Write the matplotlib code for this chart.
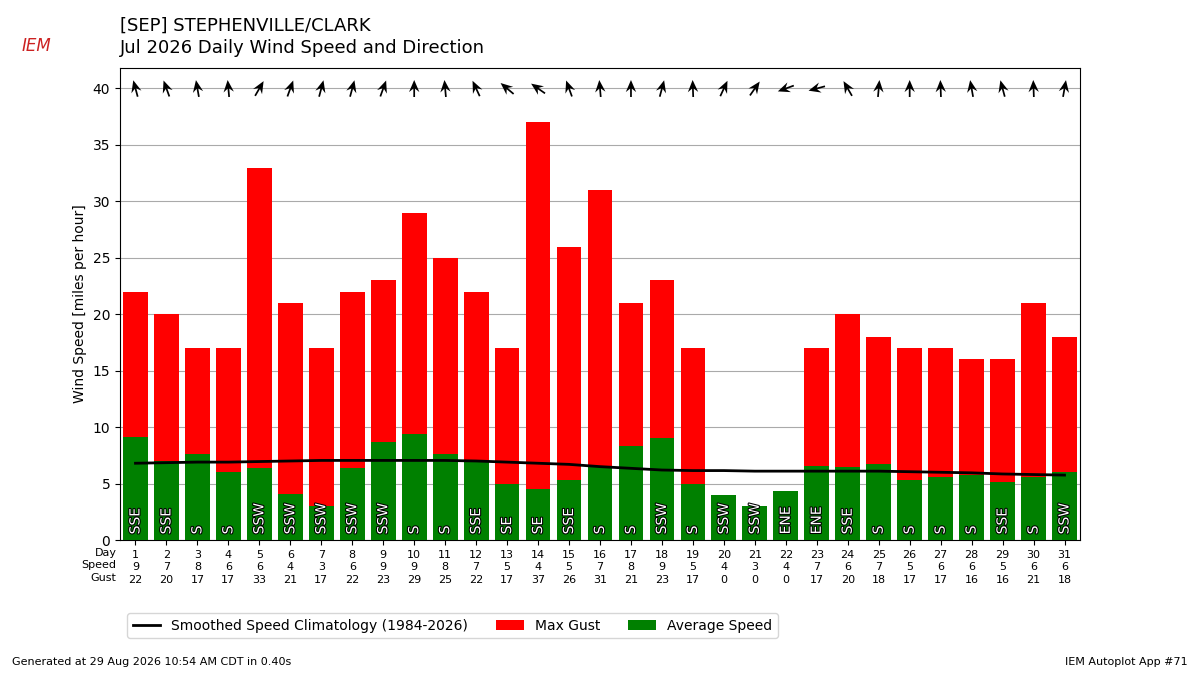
import matplotlib
matplotlib.use("Agg")
import matplotlib.pyplot as plt
import matplotlib.patheffects as pe
import numpy as np

days = list(range(1, 32))
avg_speed = [9.1, 7.0, 7.6, 6.0, 6.4, 4.1, 3.0, 6.4, 8.7, 9.4, 7.6, 7.0, 5.0, 4.5, 5.3, 6.6,
             8.3, 9.0, 5.0, 4.0, 3.0, 4.3, 6.6, 6.5, 6.7, 5.3, 5.6, 5.8, 5.1, 5.6, 6.0]
speed_lbl = [9, 7, 8, 6, 6, 4, 3, 6, 9, 9, 8, 7, 5, 4, 5, 7, 8, 9, 5, 4, 3, 4, 7, 6, 7, 5, 6, 6, 5, 6, 6]
gust = [22, 20, 17, 17, 33, 21, 17, 22, 23, 29, 25, 22, 17, 37, 26, 31, 21, 23, 17, 0, 0, 0,
        17, 20, 18, 17, 17, 16, 16, 21, 18]
dir_txt = ["SSE", "SSE", "S", "S", "SSW", "SSW", "SSW", "SSW", "SSW", "S", "S", "SSE", "SE", "SE",
           "SSE", "S", "S", "SSW", "S", "SSW", "SSW", "ENE", "ENE", "SSE", "S", "S", "S", "S",
           "SSE", "S", "SSW"]
dir_deg = [165, 160, 170, 175, 210, 200, 195, 195, 200, 180, 175, 155, 130, 125, 160, 175,
           180, 195, 178, 205, 215, 70, 75, 150, 185, 180, 178, 170, 165, 178, 190]
climo = [6.8, 6.85, 6.9, 6.9, 6.95, 7.0, 7.05, 7.05, 7.05, 7.05, 7.05, 7.0, 6.9, 6.8, 6.7,
         6.5, 6.35, 6.2, 6.15, 6.15, 6.1, 6.1, 6.1, 6.1, 6.1, 6.05, 6.0, 5.95, 5.85, 5.8, 5.75]

fig = plt.figure(figsize=(12, 6.75), dpi=100)
ax = fig.add_axes([0.1, 0.2, 0.8, 0.699])

ax.bar(days, gust, color="red", width=0.8, label="Max Gust", zorder=2)
ax.bar(days, avg_speed, color="green", width=0.8, label="Average Speed", zorder=3)
ax.plot(days, climo, color="black", lw=2, zorder=4,
        label="Smoothed Speed Climatology (1984-2026)")

for d, t in zip(days, dir_txt):
    ax.text(d, 0.5, t, rotation=90, color="white", ha="center", va="bottom", fontsize=10,
            zorder=5, path_effects=[pe.withStroke(linewidth=1.5, foreground="black")])

theta = np.radians(np.array(dir_deg) + 180)
u = np.sin(theta)
v = np.cos(theta)
ax.quiver(days, [40] * 31, u, v, pivot="middle", angles="uv", scale_units="inches",
          scale=1 / 0.17, width=0.0018, headwidth=6, headlength=7, headaxislength=5,
          color="black", zorder=6)

ax.set_xlim(0.5, 31.5)
ax.set_ylim(0, 41.8)
ax.set_yticks(range(0, 41, 5))
ax.grid(axis="y", color="#aaaaaa", zorder=0)
ax.set_axisbelow(True)
ax.set_ylabel("Wind Speed [miles per hour]")
ax.set_xticks(days)
ax.set_xticklabels([f"{d}\n{s}\n{g}" for d, s, g in zip(days, speed_lbl, gust)], fontsize=8,
                   linespacing=1.3)
ax.tick_params(axis="y", labelsize=10)
fig.text(0.097, 0.188, "Day\nSpeed\nGust", ha="right", va="top", fontsize=8, linespacing=1.3)

ax.legend(loc="upper left", bbox_to_anchor=(0.0, -0.14), ncol=3, fontsize=10)

fig.text(0.1, 0.975, "[SEP] STEPHENVILLE/CLARK\nJul 2026 Daily Wind Speed and Direction",
         fontsize=13, va="top", linespacing=1.3)
fig.text(0.01, 0.015, "Generated at 29 Aug 2026 10:54 AM CDT in 0.40s", fontsize=8)
fig.text(0.99, 0.015, "IEM Autoplot App #71", fontsize=8, ha="right")
fig.text(0.018, 0.925, "IEM", fontsize=12, color="#cc2222", style="italic")

fig.savefig("out.png")
